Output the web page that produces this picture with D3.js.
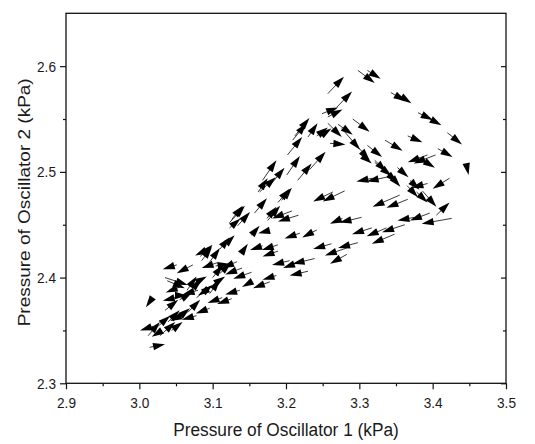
<!DOCTYPE html>
<html>
<head>
<meta charset="utf-8">
<script src="https://cdn.jsdelivr.net/npm/d3@7"></script>
<style>
  html, body { margin: 0; padding: 0; background: #fff; }
  svg { display: block; }
  text { font-family: "Liberation Sans", Arial, sans-serif; fill: #1a1a1a; }
  .tick-label { font-size: 15px; }
  .axis-title { font-size: 19px; }
</style>
</head>
<body>
<div id="chart"></div>
<script>
// each vector: [p1 tail, p2 tail, p1 head, p2 head] in kPa
const peakVectors = [
  [3.257, 2.574, 3.279, 2.590], [3.298, 2.596, 3.321, 2.584], [3.311, 2.596, 3.329, 2.588],
  [3.269, 2.561, 3.290, 2.576], [3.249, 2.555, 3.271, 2.561], [3.257, 2.552, 3.277, 2.559],
  [3.343, 2.575, 3.363, 2.567], [3.351, 2.574, 3.371, 2.565], [3.380, 2.556, 3.400, 2.549],
  [3.389, 2.553, 3.412, 2.544], [3.291, 2.550, 3.314, 2.538], [3.271, 2.545, 3.291, 2.535],
  [3.335, 2.530, 3.359, 2.520], [3.366, 2.534, 3.386, 2.528], [3.420, 2.537, 3.440, 2.526],
  [3.446, 2.507, 3.449, 2.497], [3.407, 2.522, 3.427, 2.514], [3.393, 2.516, 3.366, 2.509],
  [3.404, 2.516, 3.374, 2.508], [3.380, 2.514, 3.403, 2.504], [3.212, 2.534, 3.232, 2.551],
  [3.209, 2.530, 3.228, 2.546], [3.230, 2.533, 3.243, 2.546], [3.242, 2.534, 3.257, 2.542],
  [3.202, 2.516, 3.222, 2.533], [3.249, 2.535, 3.262, 2.541], [3.260, 2.527, 3.281, 2.526]
];

const fallVectors = [
  [3.257, 2.546, 3.276, 2.533], [3.276, 2.541, 3.301, 2.521], [3.290, 2.530, 3.314, 2.511],
  [3.311, 2.525, 3.331, 2.514], [3.301, 2.517, 3.317, 2.508], [3.321, 2.511, 3.337, 2.500],
  [3.321, 2.509, 3.344, 2.496], [3.331, 2.503, 3.352, 2.490], [3.352, 2.504, 3.367, 2.495],
  [3.365, 2.487, 3.380, 2.476], [3.378, 2.481, 3.393, 2.471], [3.386, 2.482, 3.405, 2.467],
  [3.339, 2.499, 3.356, 2.486], [3.318, 2.494, 3.296, 2.491], [3.337, 2.495, 3.310, 2.491],
  [3.423, 2.494, 3.400, 2.484], [3.393, 2.489, 3.371, 2.485], [3.369, 2.492, 3.382, 2.483]
];

const upperReturn = [
  [3.264, 2.481, 3.237, 2.472], [3.280, 2.482, 3.250, 2.472], [3.355, 2.478, 3.318, 2.467],
  [3.366, 2.474, 3.337, 2.466], [3.405, 2.459, 3.423, 2.471], [3.208, 2.463, 3.181, 2.456],
  [3.217, 2.459, 3.189, 2.453], [3.277, 2.456, 3.260, 2.451], [3.303, 2.457, 3.273, 2.452],
  [3.375, 2.457, 3.352, 2.454], [3.396, 2.461, 3.369, 2.454], [3.426, 2.456, 3.385, 2.451],
  [3.219, 2.442, 3.198, 2.437], [3.242, 2.445, 3.222, 2.438], [3.317, 2.447, 3.290, 2.441],
  [3.337, 2.447, 3.310, 2.439], [3.362, 2.450, 3.331, 2.443], [3.348, 2.441, 3.317, 2.432]
];

const lowerReturn = [
  [3.189, 2.431, 3.167, 2.426], [3.189, 2.425, 3.168, 2.420], [3.262, 2.432, 3.237, 2.427],
  [3.298, 2.433, 3.271, 2.428], [3.283, 2.428, 3.253, 2.421], [3.283, 2.422, 3.260, 2.413],
  [3.205, 2.416, 3.181, 2.412], [3.216, 2.414, 3.196, 2.409], [3.239, 2.418, 3.209, 2.413],
  [3.230, 2.406, 3.205, 2.402], [3.153, 2.405, 3.128, 2.399], [3.153, 2.396, 3.140, 2.391],
  [3.178, 2.396, 3.155, 2.390], [3.106, 2.414, 3.085, 2.409], [3.051, 2.412, 3.032, 2.408],
  [3.073, 2.412, 3.051, 2.404], [3.055, 2.391, 3.036, 2.386], [3.080, 2.388, 3.059, 2.384],
  [3.096, 2.390, 3.080, 2.383], [3.133, 2.415, 3.113, 2.409], [3.140, 2.409, 3.117, 2.403],
  [3.016, 2.379, 3.009, 2.372], [3.049, 2.381, 3.032, 2.378], [3.113, 2.381, 3.093, 2.376],
  [3.126, 2.380, 3.106, 2.375], [3.137, 2.388, 3.117, 2.384], [3.019, 2.354, 3.001, 2.350],
  [3.031, 2.350, 3.017, 2.344], [3.014, 2.334, 3.035, 2.337], [3.051, 2.383, 3.065, 2.383],
  [3.092, 2.426, 3.076, 2.421], [3.187, 2.402, 3.168, 2.398], [3.168, 2.430, 3.151, 2.426],
  [3.174, 2.444, 3.162, 2.442], [3.078, 2.364, 3.058, 2.360], [3.096, 2.371, 3.077, 2.366],
  [3.058, 2.364, 3.042, 2.359]
];

const riseVectors = [
  [3.157, 2.461, 3.174, 2.475], [3.175, 2.454, 3.192, 2.468], [3.123, 2.452, 3.144, 2.468],
  [3.123, 2.447, 3.138, 2.456], [3.153, 2.440, 3.164, 2.449], [3.117, 2.431, 3.130, 2.440],
  [3.140, 2.424, 3.148, 2.432], [3.083, 2.420, 3.100, 2.431], [3.093, 2.412, 3.110, 2.428],
  [3.110, 2.404, 3.125, 2.414], [3.100, 2.393, 3.117, 2.401], [3.164, 2.481, 3.186, 2.495],
  [3.194, 2.473, 3.208, 2.485], [3.174, 2.456, 3.187, 2.467], [3.189, 2.471, 3.205, 2.484],
  [3.168, 2.492, 3.187, 2.511], [3.178, 2.487, 3.198, 2.504], [3.162, 2.481, 3.175, 2.494],
  [3.201, 2.497, 3.219, 2.515], [3.232, 2.502, 3.254, 2.519], [3.216, 2.492, 3.235, 2.508],
  [3.073, 2.390, 3.085, 2.398], [3.076, 2.395, 3.092, 2.401], [3.078, 2.381, 3.100, 2.393],
  [3.044, 2.350, 3.059, 2.358], [3.019, 2.350, 3.042, 2.364], [3.028, 2.345, 3.049, 2.358],
  [3.053, 2.362, 3.069, 2.371], [3.066, 2.367, 3.083, 2.379], [3.055, 2.379, 3.072, 2.386],
  [3.035, 2.369, 3.053, 2.379], [3.035, 2.400, 3.066, 2.393], [3.038, 2.397, 3.062, 2.390],
  [3.110, 2.427, 3.123, 2.438], [3.085, 2.416, 3.099, 2.429], [3.100, 2.400, 3.114, 2.412],
  [3.104, 2.411, 3.123, 2.413], [3.065, 2.388, 3.078, 2.401], [3.096, 2.385, 3.110, 2.398],
  [3.039, 2.358, 3.055, 2.369], [3.012, 2.345, 3.028, 2.358], [3.126, 2.455, 3.141, 2.468],
  [3.134, 2.449, 3.151, 2.462]
];

const xTicks = [2.9, 3.0, 3.1, 3.2, 3.3, 3.4, 3.5];
const xMinor = [2.95, 3.05, 3.15, 3.25, 3.35, 3.45];
const yTicks = [2.3, 2.4, 2.5, 2.6];
const yMinor = [2.35, 2.45, 2.55];
const xTitle = "Pressure of Oscillator 1 (kPa)";
const yTitle = "Pressure of Oscillator 2 (kPa)";

const W = 535, H = 444;
const plotLeft = 66, plotRight = 506, plotTop = 13.3, plotBottom = 383.3;
const squeeze = "scale(0.91,1)";   // the source picture is a bit narrow

const x = d3.scaleLinear().domain([2.9, 3.5]).range([plotLeft, plotRight]);
const y = d3.scaleLinear().domain([2.3, 2.65]).range([plotBottom, plotTop]);

const svg = d3.select("#chart").append("svg")
  .attr("width", W)
  .attr("height", H);

// bottom axis
const gx = svg.append("g")
  .attr("transform", "translate(0," + plotBottom + ")")
  .attr("color", "#111")
  .call(d3.axisBottom(x).tickValues(xTicks).tickSize(6).tickFormat(d3.format(".1f")));
gx.select(".domain").remove();
gx.selectAll("line").attr("stroke-width", 1.2);
gx.selectAll("text")
  .attr("class", "tick-label")
  .attr("y", 14)
  .attr("dy", "0.71em")
  .attr("transform", squeeze);

const gxm = svg.append("g")
  .attr("transform", "translate(0," + plotBottom + ")")
  .attr("color", "#111")
  .call(d3.axisBottom(x).tickValues(xMinor).tickSize(3).tickFormat(""));
gxm.select(".domain").remove();
gxm.selectAll("line").attr("stroke-width", 1.2);

// left axis
const gy = svg.append("g")
  .attr("transform", "translate(" + plotLeft + ",0)")
  .attr("color", "#111")
  .call(d3.axisLeft(y).tickValues(yTicks).tickSize(6).tickFormat(d3.format(".1f")));
gy.select(".domain").remove();
gy.selectAll("line").attr("stroke-width", 1.2);
gy.selectAll("text")
  .attr("class", "tick-label")
  .attr("x", -11)
  .attr("dy", "0.34em")
  .attr("transform", squeeze);

const gym = svg.append("g")
  .attr("transform", "translate(" + plotLeft + ",0)")
  .attr("color", "#111")
  .call(d3.axisLeft(y).tickValues(yMinor).tickSize(3).tickFormat(""));
gym.select(".domain").remove();
gym.selectAll("line").attr("stroke-width", 1.2);

// right axis, ticks pointing in
[[yTicks, 5], [yMinor, 3]].forEach(([vals, size]) => {
  const g = svg.append("g")
    .attr("transform", "translate(" + plotRight + ",0)")
    .attr("color", "#111")
    .call(d3.axisLeft(y).tickValues(vals).tickSize(size).tickFormat(""));
  g.select(".domain").remove();
  g.selectAll("line").attr("stroke-width", 1.2);
});

// frame
svg.append("rect")
  .attr("x", plotLeft)
  .attr("y", plotTop)
  .attr("width", plotRight - plotLeft)
  .attr("height", plotBottom - plotTop)
  .attr("fill", "none")
  .attr("stroke", "#111")
  .attr("stroke-width", 1.3);

// vectors
const headLen = 12, headHalf = 3.7;
const vectors = [].concat(peakVectors, fallVectors, upperReturn, lowerReturn, riseVectors)
  .map(v => {
    const x0 = x(v[0]), y0 = y(v[1]), x1 = x(v[2]), y1 = y(v[3]);
    const len = Math.hypot(x1 - x0, y1 - y0);
    return { x0, y0, x1, y1, ux: (x1 - x0) / len, uy: (y1 - y0) / len };
  });

const plot = svg.append("g");

plot.selectAll("line.shaft")
  .data(vectors)
  .join("line")
  .attr("class", "shaft")
  .attr("x1", d => d.x0)
  .attr("y1", d => d.y0)
  .attr("x2", d => d.x1 - d.ux * 4)
  .attr("y2", d => d.y1 - d.uy * 4)
  .attr("stroke", "#3a3a3a")
  .attr("stroke-width", 1);

plot.selectAll("path.head")
  .data(vectors)
  .join("path")
  .attr("class", "head")
  .attr("d", d => {
    const bx = d.x1 - d.ux * headLen, by = d.y1 - d.uy * headLen;
    return "M" + d.x1 + "," + d.y1 +
      "L" + (bx - d.uy * headHalf) + "," + (by + d.ux * headHalf) +
      "L" + (bx + d.uy * headHalf) + "," + (by - d.ux * headHalf) + "Z";
  })
  .attr("fill", "#000");

// titles
svg.append("text")
  .attr("class", "axis-title")
  .attr("text-anchor", "middle")
  .attr("transform", "translate(" + ((plotLeft + plotRight) / 2) + ",436) " + squeeze)
  .text(xTitle);

svg.append("text")
  .attr("class", "axis-title")
  .attr("text-anchor", "middle")
  .attr("transform", "translate(29.5," + ((plotTop + plotBottom) / 2 + 4) + ") rotate(-90) scale(1,0.91)")
  .text(yTitle);
</script>
</body>
</html>
